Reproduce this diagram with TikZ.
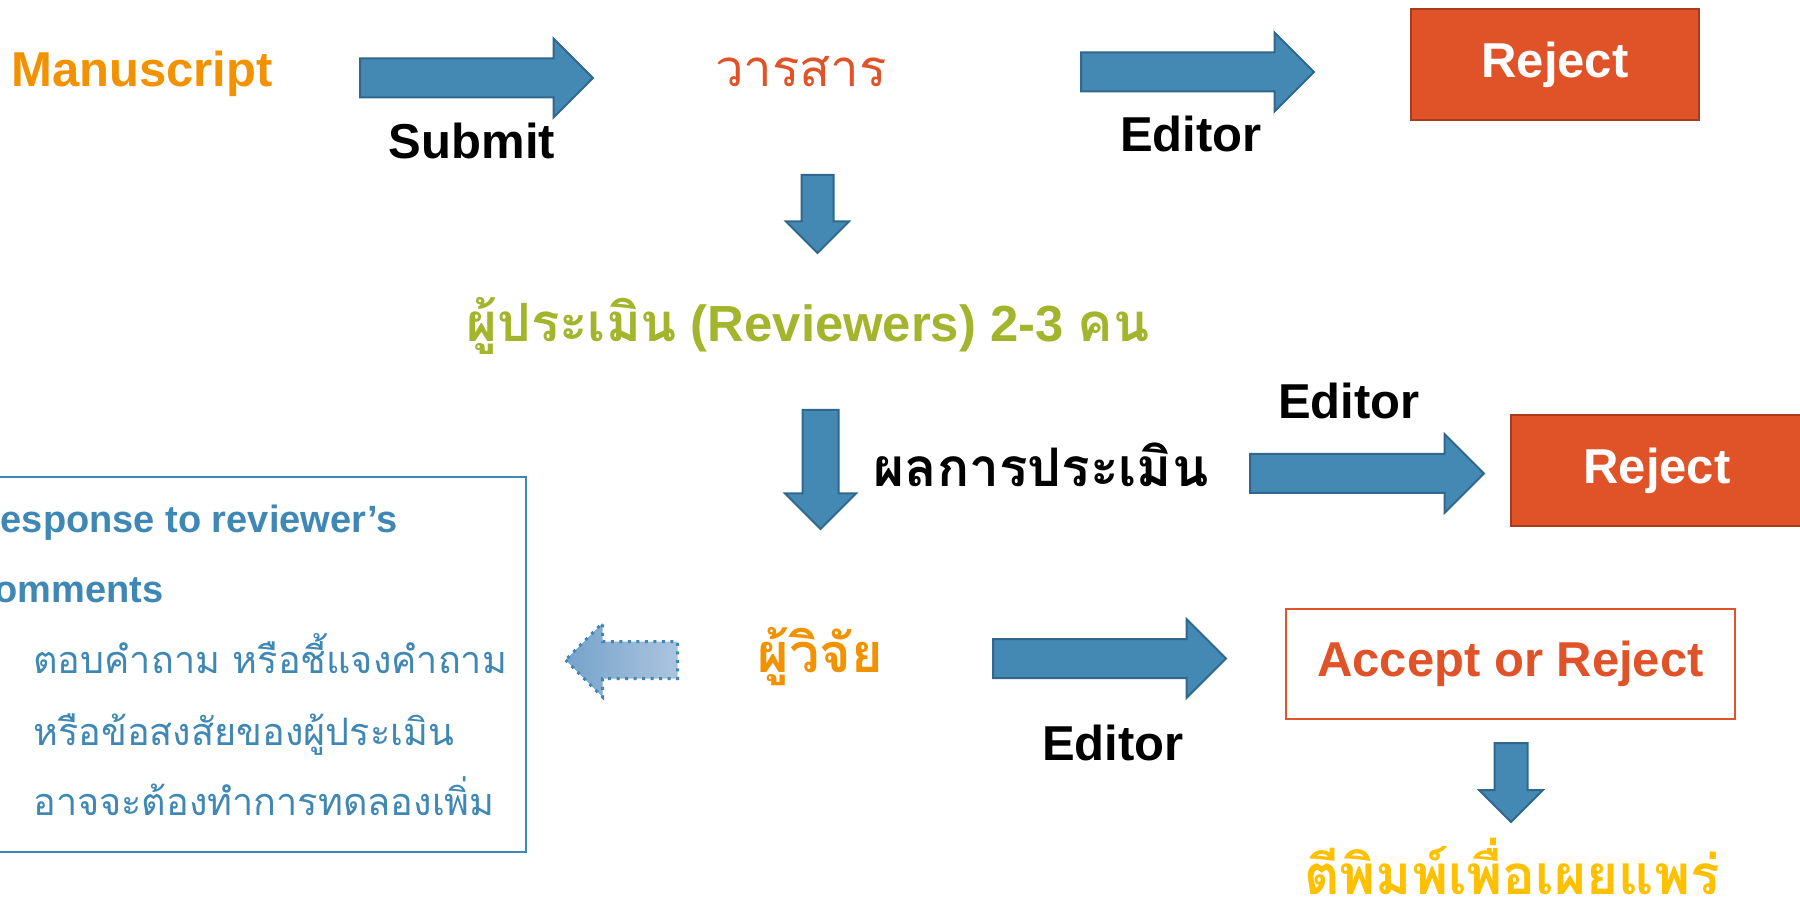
\documentclass[tikz,border=0pt]{standalone}
\usepackage{fontspec}
\setmainfont{Liberation Sans}
\newfontfamily\thaifont[Script=Thai]{Loma}
\usetikzlibrary{shapes.arrows}

\definecolor{arrowblue}{HTML}{4389B4}
\definecolor{arrowedge}{HTML}{30678C}
\definecolor{mscorange}{HTML}{F39200}
\definecolor{rejred}{HTML}{E05328}
\definecolor{rejedge}{HTML}{A83A1E}
\definecolor{revolive}{HTML}{A2B52C}
\definecolor{notebl}{HTML}{3F87B4}
\definecolor{pubgold}{HTML}{FFC000}
\definecolor{backdark}{HTML}{76A2CB}
\definecolor{backlight}{HTML}{AAC5DE}

\begin{document}
\begin{tikzpicture}[x=0.5pt,y=-0.5pt,
    blockarr/.style={single arrow, draw=arrowedge, fill=arrowblue,
                     line width=1pt, inner xsep=0pt, anchor=tail},
    rarr/.style={blockarr, minimum height=116.5pt, minimum width=38.5pt,
                 inner ysep=9.25pt, single arrow head extend=10pt},
    bigtxt/.style={font=\fontsize{24.5}{29}\selectfont\bfseries,
                   inner sep=0pt, anchor=base},
    thaitxt/.style={font=\fontsize{#1}{30}\selectfont\thaifont\bfseries,
                    inner sep=0pt, anchor=base},
    boxline/.style={font=\fontsize{18.9}{23}\selectfont\thaifont,
                    text=notebl, inner sep=0pt, anchor=base west},
    boxhead/.style={font=\fontsize{19}{23}\selectfont\bfseries,
                    text=notebl, inner sep=0pt, anchor=base west},
    rejbox/.style={draw=rejedge, fill=rejred, line width=1pt,
                   text=white, minimum height=55.5pt}]

  % page and clipping
  \path[use as bounding box] (0,0) rectangle (1800,903);
  \clip (0,0) rectangle (1800,903);

  % --- first row --------------------------------------------------
  \node[bigtxt, text=mscorange] (manuscript) at (142,87) {Manuscript};
  \node[rarr] (arrSubmit) at (359,78) {};
  \node[bigtxt] (submitLbl) at (472,159) {Submit};
  \node[thaitxt=25.5, text=rejred, font=\fontsize{25.5}{30}\selectfont\thaifont]
        (journal) at (801,87) {วารสาร};
  \node[rarr] (arrEdTop) at (1080,72) {};
  \node[bigtxt] (editorTop) at (1191,152) {Editor};
  \node[rejbox, bigtxt, anchor=center, minimum width=144pt]
        (rejectTop) at (1555,64.5) {Reject};

  % --- to the reviewers --------------------------------------------
  \node[blockarr, rotate=-90, minimum height=39pt, minimum width=30.5pt,
        inner ysep=7.5pt, single arrow head extend=7.75pt] (arrDownA) at (817.5,174) {};
  \node[bigtxt, text=revolive, font=\fontsize{25.4}{30}\selectfont\bfseries]
        (reviewers) at (808,342)
        {{\fontsize{26.4}{30}\selectfont\thaifont ผู้ประเมิน} (Reviewers) 2-3
         {\fontsize{26.4}{30}\selectfont\thaifont คน}};

  % --- review result ----------------------------------------------
  \node[blockarr, rotate=-90, minimum height=59.5pt, minimum width=34.5pt,
        inner ysep=8.5pt, single arrow head extend=8.75pt] (arrDownB) at (820.5,409) {};
  \node[thaitxt=26.6] (result) at (1041,487) {ผลการประเมิน};
  \node[bigtxt] (editorMid) at (1349,419) {Editor};
  \node[rarr, minimum height=117pt] (arrEdMid) at (1249,473.5) {};
  \node[rejbox, bigtxt, anchor=center, minimum width=146pt]
        (rejectMid) at (1657,470.5) {Reject};

  % --- researcher and response ------------------------------------
  \node[thaitxt=27, text=mscorange] (researcher) at (820,672) {ผู้วิจัย};
  \node[single arrow, shape border rotate=180, anchor=tail,
        inner xsep=0pt, inner ysep=8.5pt,
        left color=backdark, right color=backlight, draw=notebl,
        line width=1.5pt, dash pattern=on 1.5pt off 2.75pt,
        minimum height=56pt, minimum width=35.5pt,
        single arrow head extend=9.25pt] (arrBack) at (679,660) {};
  \draw[notebl, line width=1pt] (-10,477) rectangle (526,852);
  \node[boxhead] (respA) at (-27,532) {Response to reviewer’s};
  \node[boxhead] (respB) at (-27,603) {comments};
  \node[boxline] (respC) at (33,673) {ตอบคำถาม หรือชี้แจงคำถาม};
  \node[boxline] (respD) at (33,745) {หรือข้อสงสัยของผู้ประเมิน};
  \node[boxline] (respE) at (33,815) {อาจจะต้องทำการทดลองเพิ่ม};

  % --- final decision ---------------------------------------------
  \node[rarr] (arrEdLow) at (992,658.5) {};
  \node[bigtxt] (editorLow) at (1113,760) {Editor};
  \node[bigtxt, anchor=center, text=rejred, draw=rejred, line width=0.75pt,
        minimum width=224.5pt, minimum height=55pt]
        (decision) at (1510.5,664) {Accept or Reject};
  \node[blockarr, rotate=-90, minimum height=39.5pt, minimum width=31pt,
        inner ysep=7.75pt, single arrow head extend=7.75pt] (arrDownC) at (1511,742) {};
  \node[thaitxt=27.4, text=pubgold] (publish) at (1512,894) {ตีพิมพ์เพื่อเผยแพร่};

\end{tikzpicture}
\end{document}
